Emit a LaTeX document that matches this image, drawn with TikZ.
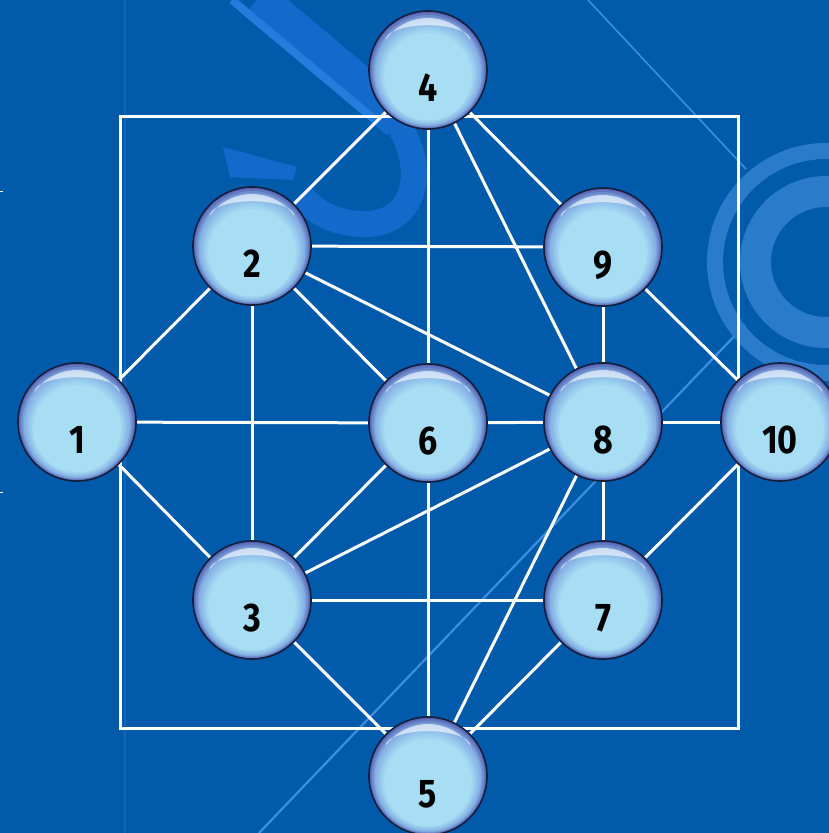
\documentclass[tikz,border=0pt]{standalone}
\usepackage{fontspec}
\setmainfont{Fira Sans}
\usepackage{graphicx}
\definecolor{bg}{RGB}{2,90,170}
\definecolor{deco}{RGB}{20,106,202}
\definecolor{decolt}{RGB}{36,124,220}
\definecolor{ringc}{RGB}{42,124,202}
\definecolor{thinln}{RGB}{60,142,222}
\definecolor{faintln}{RGB}{18,102,186}
\definecolor{rim}{RGB}{22,30,62}
\definecolor{cRim}{RGB}{84,100,180}
\definecolor{cMid}{RGB}{132,176,228}
\definecolor{cLight}{RGB}{168,222,244}
\pgfdeclarelayer{decolayer}
\pgfdeclarelayer{edgelayer}
\pgfdeclarelayer{balllayer}
\pgfsetlayers{decolayer,edgelayer,balllayer,main}
\tikzset{
  ball/.style={circle, minimum size=118pt, inner sep=0pt, draw=rim, line width=1.6pt},
  numlabel/.style={font=\fontsize{40}{40}\selectfont\bfseries, text=black, inner sep=0pt},
  edge/.style={draw=white, line width=3pt},
  frame/.style={draw=white, line width=3pt},
  gloss/.style={fill=white, opacity=0.6}
}
\begin{document}
\begin{tikzpicture}[x=1pt,y=1pt]
\useasboundingbox (0,0) rectangle (829,-833);
% background decoration
\begin{pgfonlayer}{decolayer}
  \fill[bg] (0,0) rectangle (829,-833);
  \draw[faintln, line width=1.5pt] (125,0) -- (125,-833);
  % hook
  \draw[deco, line width=40pt] (257,0) -- (400,-120);
  \draw[deco, line width=26pt] (388,-110) .. controls (430,-160) and (420,-224) .. (365,-224) .. controls (335,-224) and (315,-212) .. (300,-195);
  \fill[deco] (223,-147) -- (297,-167) -- (293,-180) -- (230,-177) -- cycle;
  \draw[decolt, line width=8pt] (232,0) -- (375,-120);
  % thin diagonal lines
  \draw[thinln, line width=2.2pt] (259,-833) -- (745,-325);
  \draw[thinln, line width=1.6pt] (588,0) -- (746,-169);
  % rings
  \draw[ringc, line width=31pt] (826,-262) circle[radius=70.5];
  \draw[ringc, line width=16pt] (826,-262) circle[radius=111];
  % small ticks at left edge
  \draw[white, line width=0.8pt] (0,-191) -- (3,-191);
  \draw[white, line width=0.8pt] (0,-492) -- (3,-492);
\end{pgfonlayer}
% balls
\node[ball] (n1) at (77,-422) {};
\node[ball] (n2) at (252,-246) {};
\node[ball] (n3) at (252,-600) {};
\node[ball] (n4) at (428,-70) {};
\node[ball] (n5) at (428,-776) {};
\node[ball] (n6) at (428,-423) {};
\node[ball] (n7) at (603,-600) {};
\node[ball] (n8) at (603,-422) {};
\node[ball] (n9) at (603,-247) {};
\node[ball] (n10) at (780,-422) {};
% ball body: stepped gradient, light centre low in the ball
\begin{pgfonlayer}{balllayer}
\foreach \n in {1,...,10}{
  \foreach \i in {0,...,22}{
    \pgfmathsetmacro\rr{59-1.4*\i}
    \pgfmathsetmacro\dd{0.6*\i}
    \pgfmathtruncatemacro\pa{min(100,\i*100/4)}
    \pgfmathtruncatemacro\pb{max(0,min(100,(\i-4)*100/7))}
    \fill[cLight!\pb!cMid!\pa!cRim] ([yshift=-\dd pt]n\n.center) circle[radius=\rr];
  }
}
\end{pgfonlayer}
% gloss highlights
\foreach \n in {1,...,10}{
  \fill[gloss] (n\n.center) ++(145:52) arc[start angle=145, end angle=35, radius=52]
     arc[start angle=0, end angle=180, x radius=42.6, y radius=15] -- cycle;
}
% labels
\foreach \n in {1,...,10}{
  \node[numlabel] (t\n) at ([yshift=-18pt]n\n.center) {\scalebox{0.85}[1]{\n}};
}
% edges and frame
\begin{pgfonlayer}{edgelayer}
  \draw[frame] (120,-116) rectangle (738,-728);
  \draw[edge] (n1) -- (n2);
  \draw[edge] (n1) -- (n6);
  \draw[edge] (n1) -- (n3);
  \draw[edge] (n2) -- (n4);
  \draw[edge] (n2) -- (n9);
  \draw[edge] (n2) -- (n6);
  \draw[edge] (n2) -- (n8);
  \draw[edge] (n2) -- (n3);
  \draw[edge] (n4) -- (n6);
  \draw[edge] (n4) -- (n8);
  \draw[edge] (n4) -- (n9);
  \draw[edge] (n9) -- (n8);
  \draw[edge] (n9) -- (n10);
  \draw[edge] (n6) -- (n8);
  \draw[edge] (n6) -- (n3);
  \draw[edge] (n6) -- (n5);
  \draw[edge] (n8) -- (n10);
  \draw[edge] (n8) -- (n3);
  \draw[edge] (n8) -- (n5);
  \draw[edge] (n8) -- (n7);
  \draw[edge] (n3) -- (n7);
  \draw[edge] (n3) -- (n5);
  \draw[edge] (n7) -- (n5);
  \draw[edge] (n7) -- (n10);
\end{pgfonlayer}
\end{tikzpicture}
\end{document}
